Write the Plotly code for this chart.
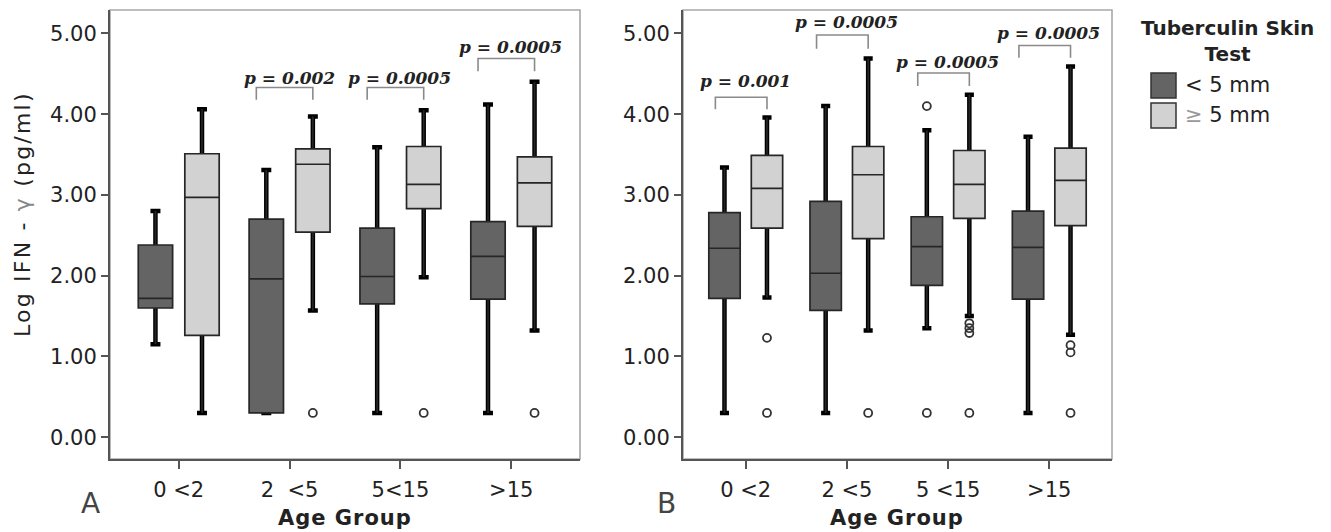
import plotly.graph_objects as go

# ---------------- data ----------------
categories_A = ["0 <2", "2\u00a0\u00a0<5", "5<15", ">15"]
categories_B = ["0 <2", "2 <5", "5 <15", ">15"]

A_dark_lower = [1.15, 0.30, 0.30, 0.30]
A_dark_q1 = [1.60, 0.30, 1.65, 1.71]
A_dark_med = [1.72, 1.96, 1.99, 2.24]
A_dark_q3 = [2.38, 2.70, 2.59, 2.67]
A_dark_upper = [2.80, 3.31, 3.59, 4.12]

A_light_lower = [0.30, 1.57, 1.98, 1.32]
A_light_q1 = [1.26, 2.54, 2.83, 2.61]
A_light_med = [2.97, 3.38, 3.13, 3.15]
A_light_q3 = [3.51, 3.57, 3.60, 3.47]
A_light_upper = [4.06, 3.97, 4.05, 4.40]

B_dark_lower = [0.30, 0.30, 1.35, 0.30]
B_dark_q1 = [1.72, 1.57, 1.88, 1.71]
B_dark_med = [2.34, 2.03, 2.36, 2.35]
B_dark_q3 = [2.78, 2.92, 2.73, 2.80]
B_dark_upper = [3.34, 4.10, 3.80, 3.72]

B_light_lower = [1.73, 1.32, 1.50, 1.27]
B_light_q1 = [2.59, 2.46, 2.71, 2.62]
B_light_med = [3.08, 3.25, 3.13, 3.18]
B_light_q3 = [3.49, 3.60, 3.55, 3.58]
B_light_upper = [3.96, 4.69, 4.24, 4.59]

A_dark_out_group = []
A_dark_out_val = []
A_light_out_group = [1, 2, 3]
A_light_out_val = [0.30, 0.30, 0.30]
B_dark_out_group = [2, 2]
B_dark_out_val = [4.10, 0.30]
B_light_out_group = [0, 0, 1, 2, 2, 2, 2, 3, 3, 3]
B_light_out_val = [1.23, 0.30, 0.30, 1.41, 1.35, 1.29, 0.30, 1.14, 1.05, 0.30]

A_p_group = [1, 2, 3]
A_p_text = ["p = 0.002", "p = 0.0005", "p = 0.0005"]
A_p_bracket = [4.33, 4.33, 4.69]
A_p_bottom = [4.18, 4.18, 4.53]
A_p_texty = [4.45, 4.45, 4.83]

B_p_group = [0, 1, 2, 3]
B_p_text = ["p = 0.001", "p = 0.0005", "p = 0.0005", "p = 0.0005"]
B_p_bracket = [4.21, 4.98, 4.51, 4.85]
B_p_bottom = [4.06, 4.81, 4.35, 4.70]
B_p_texty = [4.41, 5.14, 4.64, 5.01]

legend_labels = ["< 5 mm", "<span style='color:#999'>\u2265</span> 5 mm"]

# ---------------- style ----------------
W, H = 1331, 532
DARK_FILL = "#646464"
LIGHT_FILL = "#d2d2d2"
OFF = 0.21
BOXW = 0.31
CAPW = 0.09
INSET = 0.03
SANS = "DejaVu Sans"
SERIF = "DejaVu Serif"


def px_x(p):
    return p / W


def px_y(p):
    return 1 - p / H


fig = go.Figure()


def add_series(xa, ya, offset, fill, lower, q1, med, q3, upper, out_g, out_v):
    n = len(med)
    xs = [i + offset for i in range(n)]
    # thick black whiskers with caps (its own box is hidden under the real box)
    fig.add_trace(go.Box(
        x=xs, q1=[v + INSET for v in q1], median=med,
        q3=[v - INSET for v in q3], lowerfence=lower, upperfence=upper,
        width=CAPW, whiskerwidth=1, fillcolor="black",
        line=dict(color="black", width=4.5), boxpoints=False,
        xaxis=xa, yaxis=ya, showlegend=False, hoverinfo="skip"))
    # the box itself
    fig.add_trace(go.Box(
        x=xs, q1=q1, median=med, q3=q3, lowerfence=lower, upperfence=upper,
        width=BOXW, whiskerwidth=0, fillcolor=fill,
        line=dict(color="#262626", width=1.7), boxpoints=False,
        xaxis=xa, yaxis=ya, showlegend=False))
    if out_v:
        fig.add_trace(go.Scatter(
            x=[g + offset for g in out_g], y=out_v, mode="markers",
            marker=dict(symbol="circle-open", size=8, color="#333",
                        line=dict(width=1.8, color="#333")),
            xaxis=xa, yaxis=ya, showlegend=False))


add_series("x", "y", -OFF, DARK_FILL, A_dark_lower, A_dark_q1, A_dark_med,
           A_dark_q3, A_dark_upper, A_dark_out_group, A_dark_out_val)
add_series("x", "y", OFF, LIGHT_FILL, A_light_lower, A_light_q1, A_light_med,
           A_light_q3, A_light_upper, A_light_out_group, A_light_out_val)
add_series("x2", "y2", -OFF, DARK_FILL, B_dark_lower, B_dark_q1, B_dark_med,
           B_dark_q3, B_dark_upper, B_dark_out_group, B_dark_out_val)
add_series("x2", "y2", OFF, LIGHT_FILL, B_light_lower, B_light_q1, B_light_med,
           B_light_q3, B_light_upper, B_light_out_group, B_light_out_val)

shapes = []
annotations = []

# p-value brackets
BL, BR = -0.30, 0.21
for xr, yr, groups, texts, brk, bot, ty in [
    ("x", "y", A_p_group, A_p_text, A_p_bracket, A_p_bottom, A_p_texty),
    ("x2", "y2", B_p_group, B_p_text, B_p_bracket, B_p_bottom, B_p_texty),
]:
    for g, t, yb, y0, yt in zip(groups, texts, brk, bot, ty):
        x0, x1 = g + BL, g + BR
        shapes.append(dict(type="path", xref=xr, yref=yr,
                           path=f"M {x0},{y0} L {x0},{yb} L {x1},{yb} L {x1},{y0}",
                           line=dict(color="#8a8a8a", width=1.6)))
        annotations.append(dict(xref=xr, yref=yr, x=(x0 + x1) / 2 + 0.04, y=yt,
                                xanchor="center", yanchor="middle",
                                text=f"<b><i>{t}</i></b>", showarrow=False,
                                font=dict(family=SERIF, size=17, color="#222")))

# frames
for xr, yr in [("x domain", "y domain"), ("x2 domain", "y2 domain")]:
    shapes.append(dict(type="rect", xref=xr, yref=yr, x0=0, x1=1, y0=0, y1=1,
                       line=dict(color="#a8a8a8", width=1.6), layer="below"))


def paper_text(x, y, text, size, color="#222", **kw):
    d = dict(xref="paper", yref="paper", x=px_x(x), y=px_y(y), text=text,
             showarrow=False, xanchor="center", yanchor="middle",
             font=dict(family=SANS, size=size, color=color))
    d.update(kw)
    annotations.append(d)


# axis titles and panel letters
paper_text(23, 214,
           "<span style='letter-spacing:2.2px'>Log IFN - "
           "<span style='color:#888'>\u03b3</span> (pg/ml)</span>",
           22, textangle=-90)
for cx in [345, 897]:
    paper_text(cx, 518, "<span style='letter-spacing:1px'><b>Age Group</b></span>", 21)
for letter, cx in [("A", 91), ("B", 666)]:
    paper_text(cx, 503, letter, 28, color="#444")

# legend (drawn manually)
paper_text(1227, 41, "<b>Tuberculin Skin<br>Test</b>", 20, align="center")
for k, (fill, lab) in enumerate(zip([DARK_FILL, LIGHT_FILL], legend_labels)):
    top = 73 + 30 * k
    shapes.append(dict(type="rect", xref="paper", yref="paper",
                       x0=px_x(1151), x1=px_x(1176), y0=px_y(top + 25), y1=px_y(top),
                       fillcolor=fill, line=dict(color="#333", width=1.5)))
    paper_text(1183, top + 12, lab, 21, xanchor="left")

axis_common = dict(showline=True, linecolor="#555", linewidth=2, ticks="outside",
                   tickcolor="#555", tickwidth=1.5, showgrid=False, zeroline=False,
                   automargin=False,
                   tickfont=dict(family=SANS, size=21, color="#222"))
yrange = [-0.27, 5.29]
xrange = [-0.62, 3.62]

fig.update_layout(
    width=W, height=H, margin=dict(l=0, r=0, t=0, b=0),
    paper_bgcolor="white", plot_bgcolor="white", showlegend=False,
    boxmode="overlay",
    xaxis=dict(domain=[110 / W, 580 / W], range=xrange, tickvals=[0, 1, 2, 3],
               ticktext=categories_A, ticklen=8, ticklabelstandoff=3, anchor="y",
               **axis_common),
    xaxis2=dict(domain=[683 / W, 1112 / W], range=xrange, tickvals=[0, 1, 2, 3],
                ticktext=categories_B, ticklen=8, ticklabelstandoff=3, anchor="y2",
                **axis_common),
    yaxis=dict(domain=[1 - 459 / H, 1 - 10 / H], range=yrange, tick0=0, dtick=1,
               tickformat=".2f", ticklen=7, anchor="x", **axis_common),
    yaxis2=dict(domain=[1 - 459 / H, 1 - 10 / H], range=yrange, tick0=0, dtick=1,
                tickformat=".2f", ticklen=7, anchor="x2", **axis_common),
    shapes=shapes, annotations=annotations,
)

fig.write_html("out.html", config={"displayModeBar": False},
               post_script="document.body.style.margin='0';document.body.style.overflow='hidden';")
